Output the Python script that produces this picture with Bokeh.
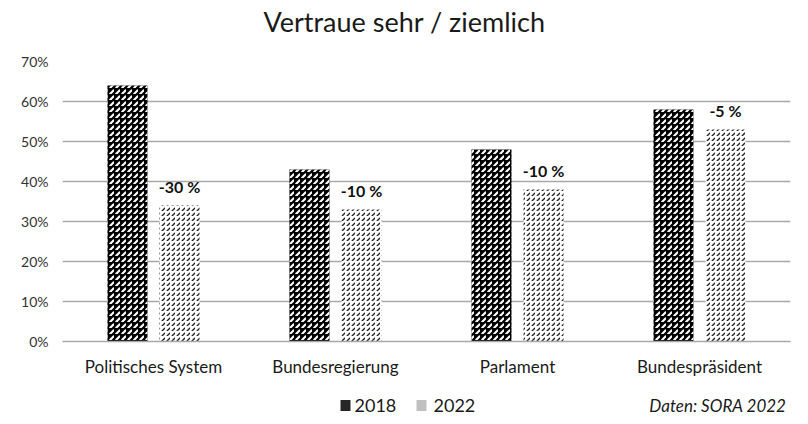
from bokeh.plotting import figure
from bokeh.layouts import column
from bokeh.models import ColumnDataSource, Range1d, FixedTicker
from bokeh.transform import dodge
from bokeh.core.properties import value
from bokeh.embed import file_html
from bokeh.resources import INLINE

categories = ["Politisches System", "Bundesregierung", "Parlament", "Bundespräsident"]
v2018 = [64, 43, 48, 58]
v2022 = [34, 33, 38, 53]
change_labels = ["-30 %", "-10 %", "-10 %", "-5 %"]
y_ticks = [0, 10, 20, 30, 40, 50, 60, 70]
y_tick_labels = ["0%", "10%", "20%", "30%", "40%", "50%", "60%", "70%"]
series_names = ["2018", "2022"]
title_text = "Vertraue sehr / ziemlich"
source_note = "Daten: SORA 2022"

FONT = "Lato"
W = 800
FL, FR = 62, 790  # frame left/right in pixels (shared by the column's aligned frames)


def blank(height):
    fig = figure(width=W, height=height, x_range=Range1d(FL, FR), y_range=Range1d(0, height),
                 output_backend="svg", toolbar_location=None,
                 min_border=0, min_border_left=0, min_border_right=0,
                 min_border_top=0, min_border_bottom=0)
    fig.axis.visible = False
    fig.grid.visible = False
    fig.outline_line_color = None
    return fig


# header with title
HH = 46
h = blank(HH)
h.text(x=[404], y=[HH - 21], text=[title_text], text_align="center", text_baseline="middle",
       text_font=value(FONT), text_font_size="27px", text_color="#1a1a1a")

# main chart
src = ColumnDataSource(dict(cat=categories, v2018=v2018, v2022=v2022, lab=change_labels))

p = figure(width=W, height=390 - HH, x_range=categories, y_range=Range1d(0, 70),
           output_backend="svg", toolbar_location=None,
           min_border_left=FL, min_border_right=W - FR, min_border_top=61 - HH, min_border_bottom=49)

p.outline_line_color = None
p.xgrid.grid_line_color = None
p.ygrid.grid_line_color = "#a8a8a8"
p.ygrid.grid_line_width = 1.5

p.yaxis.ticker = FixedTicker(ticks=y_ticks)
p.yaxis.major_label_overrides = {t: l for t, l in zip(y_ticks, y_tick_labels)}
p.yaxis.axis_line_color = None
p.yaxis.major_tick_line_color = None
p.yaxis.major_tick_out = 0
p.yaxis.minor_tick_line_color = None
p.yaxis.major_label_text_font = FONT
p.yaxis.major_label_text_font_size = "14px"
p.yaxis.major_label_text_color = "#333333"
p.yaxis.major_label_standoff = 14

p.xaxis.axis_line_color = "#a8a8a8"
p.xaxis.axis_line_width = 1.5
p.xaxis.major_tick_line_color = None
p.xaxis.major_tick_out = 0
p.xaxis.minor_tick_line_color = None
p.xaxis.major_label_text_font = FONT
p.xaxis.major_label_text_font_size = "17px"
p.xaxis.major_label_text_color = "#1a1a1a"
p.xaxis.major_label_standoff = 14

p.vbar(x=dodge("cat", -0.143, range=p.x_range), top="v2018", width=0.22, source=src,
       fill_color="black", line_color=None,
       hatch_pattern=",", hatch_color="white", hatch_scale=6, hatch_weight=2.1)
p.vbar(x=dodge("cat", 0.143, range=p.x_range), top="v2022", width=0.22, source=src,
       fill_color="white", line_color=None,
       hatch_pattern=",", hatch_color="#222222", hatch_scale=5, hatch_weight=1.3)

p.text(x=dodge("cat", 0.143, range=p.x_range), y="v2022", text="lab", source=src,
       text_align="center", text_baseline="bottom", y_offset=-10,
       text_font=value(FONT), text_font_size="16px", text_font_style="bold", text_color="#111111")

# footer with legend and source note
FH = 26
f = blank(FH)
leg = ColumnDataSource(dict(sx=[345, 421], tx=[354, 433], y=[11, 11],
                            color=["#262626", "#c0c0c0"], name=series_names))
f.rect(x="sx", y="y", width=10, height=11, fill_color="color", line_color=None, source=leg)
f.text(x="tx", y="y", text="name", source=leg, text_align="left", text_baseline="middle",
       text_font=value(FONT), text_font_size="18px", text_color="#1a1a1a")
f.text(x=[786], y=[11], text=[source_note], text_align="right", text_baseline="middle",
       text_font=value(FONT), text_font_size="17px", text_font_style="italic", text_color="#1a1a1a")

layout = column(h, p, f, spacing=0)
open("out.html", "w").write(file_html(layout, INLINE))
